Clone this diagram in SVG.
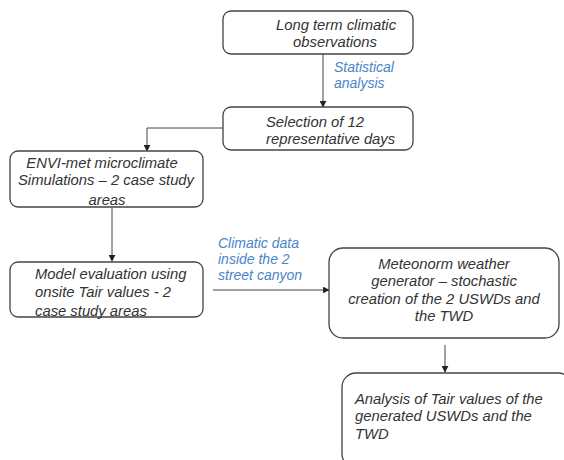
<svg xmlns="http://www.w3.org/2000/svg" width="564" height="460" viewBox="0 0 564 460">
<defs>
<marker id="ah" viewBox="0 0 10 10" refX="9" refY="5" markerWidth="7" markerHeight="7" orient="auto" markerUnits="userSpaceOnUse">
<path d="M0,0 L10,5 L0,10 z" fill="#222"/>
</marker>
<style>
.box{fill:#fff;stroke:#444;stroke-width:1.3}
.t{font-family:"Liberation Sans",Arial,sans-serif;font-style:italic;font-size:14.8px;fill:#333}
.c{text-anchor:middle}
.b{font-family:"Liberation Sans",Arial,sans-serif;font-style:italic;font-size:14px;fill:#4a86c8}
.ln{fill:none;stroke:#444;stroke-width:1}
</style>
</defs>
<rect width="564" height="460" fill="#fff"/>
<g id="connectors">
<line class="ln" x1="323" y1="54" x2="323" y2="107" marker-end="url(#ah)"/>
<polyline class="ln" points="223,128 147,128 147,151" marker-end="url(#ah)"/>
<line class="ln" x1="112" y1="208" x2="112" y2="261" marker-end="url(#ah)"/>
<line class="ln" x1="213" y1="290" x2="329" y2="290" marker-end="url(#ah)"/>
<line class="ln" x1="445" y1="345" x2="445" y2="372" marker-end="url(#ah)"/>
<text class="b" x="334" y="72">Statistical</text>
<text class="b" x="334" y="88">analysis</text>
<text class="b" x="218" y="248">Climatic data</text>
<text class="b" x="218" y="264">inside the 2</text>
<text class="b" x="218" y="280">street canyon</text>
</g>
<g id="n1">
<rect class="box" x="223" y="11" width="190" height="43" rx="8"/>
<text class="t c" x="336" y="30">Long term climatic</text>
<text class="t c" x="335" y="47">observations</text>
</g>
<g id="n2">
<rect class="box" x="223" y="107" width="190" height="43" rx="8"/>
<text class="t" x="266" y="127">Selection of 12</text>
<text class="t" x="266" y="144">representative days</text>
</g>
<g id="n3">
<rect class="box" x="10" y="151" width="193" height="56" rx="8"/>
<text class="t c" x="102" y="168">ENVI-met microclimate</text>
<text class="t c" x="106" y="185">Simulations – 2 case study</text>
<text class="t c" x="107" y="205">areas</text>
</g>
<g id="n4">
<rect class="box" x="10" y="262" width="193" height="55" rx="8"/>
<text class="t" x="35" y="279">Model evaluation using</text>
<text class="t" x="35" y="297">onsite Tair values -  2</text>
<text class="t" x="35" y="316">case study areas</text>
</g>
<g id="n5">
<rect class="box" x="329" y="248" width="230" height="90" rx="14"/>
<text class="t c" x="444" y="269">Meteonorm weather</text>
<text class="t c" x="444" y="286">generator –  stochastic</text>
<text class="t c" x="444" y="304">creation of  the 2 USWDs and</text>
<text class="t c" x="444" y="321">the TWD</text>
</g>
<g id="n6">
<rect class="box" x="342" y="373" width="230" height="95" rx="14"/>
<text class="t" x="355" y="404">Analysis of Tair values of the</text>
<text class="t" x="355" y="421">generated USWDs and the</text>
<text class="t" x="355" y="439">TWD</text>
</g>
</svg>
